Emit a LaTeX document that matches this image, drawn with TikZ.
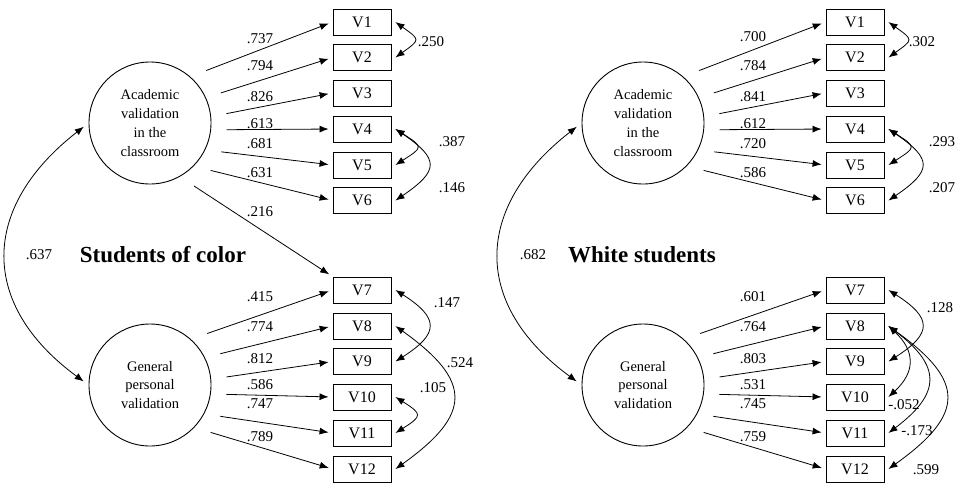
\documentclass[tikz,border=0pt]{standalone}
\usepackage{fontspec}
\setmainfont{Liberation Serif}
\usetikzlibrary{arrows.meta}
\begin{document}
\begin{tikzpicture}[x=1pt,y=-1pt,
 lat/.style={draw, circle, line width=0.9pt, minimum size=122pt, inner sep=0pt, align=center, font=\fontsize{14.5}{18.7}\selectfont},
 obs/.style={draw, line width=0.9pt, minimum width=58pt, minimum height=26pt, inner sep=0pt, font=\fontsize{16}{18}\selectfont},
 load/.style={line width=0.8pt, -{Latex[length=9pt,width=7pt]}, shorten >=4pt},
 cov/.style={line width=0.8pt, {Latex[length=9pt,width=7pt]}-{Latex[length=9pt,width=7pt]}},
 lab/.style={font=\fontsize{15}{18}\selectfont, inner sep=0pt},
 ttl/.style={font=\fontsize{23}{27}\selectfont\bfseries, inner sep=0pt}]
\useasboundingbox (0,0) rectangle (963,483);

\foreach \p/\dx in {L/0,R/493}{
  \node[lat] (\p A) at (150+\dx,123) {Academic\\validation\\in the\\classroom};
  \node[lat] (\p G) at (150+\dx,385) {General\\personal\\validation};
  \foreach \i/\y in {1/22,2/57.5,3/93,4/129,5/165,6/200.5,7/290,8/326,9/361.5,10/397,11/433,12/469}{
    \node[obs] (\p V\i) at (362+\dx,\y) {V\i};
  }
  \foreach \ang [count=\i] in {43,23,7,-5,-22,-38}{
    \path (\p A) ++(\ang:77pt) coordinate (\p s\i);
    \draw[load] (\p s\i) -- (\p V\i.west);
  }
  \foreach \ang [count=\j] in {42,24,6,-7,-24,-38}{
    \pgfmathtruncatemacro{\k}{\j+6}
    \path (\p G) ++(\ang:77pt) coordinate (\p t\k);
    \draw[load] (\p t\k) -- (\p V\k.west);
  }
  \draw[cov, shorten <=6pt, shorten >=6pt] (\p A.west) .. controls +(-109,85) and +(-109,-80) .. (\p G.west);
  \draw[cov] ([xshift=4pt]\p V1.east) .. controls +(25,18) and +(25,-18) .. ([xshift=4pt]\p V2.east);
  \draw[cov] ([xshift=4pt]\p V4.east) .. controls +(28,18) and +(28,-18) .. ([xshift=4pt]\p V5.east);
  \draw[cov] ([xshift=4pt]\p V4.east) .. controls +(44,30) and +(44,-30) .. ([xshift=4pt]\p V6.east);
  \draw[cov] ([xshift=4pt]\p V7.east) .. controls +(44,28) and +(44,-28) .. ([xshift=4pt]\p V9.east);
  \draw[cov] ([xshift=4pt]\p V8.east) .. controls +(77,55) and +(77,-55) .. ([xshift=4pt]\p V12.east);
}

% extra path left
\path (LA) ++(-55:77pt) coordinate (Ls7);
\draw[load] (Ls7) -- (LV7.north west);
\draw[cov] ([xshift=4pt]LV10.east) .. controls +(27,17) and +(27,-17) .. ([xshift=4pt]LV11.east);
% extra covariances right
\draw[cov] ([xshift=4pt]RV8.east) .. controls +(27,25) and +(27,-25) .. ([xshift=4pt]RV10.east);
\draw[cov] ([xshift=4pt]RV8.east) .. controls +(53,40) and +(53,-40) .. ([xshift=4pt]RV11.east);

% titles
\node[ttl] (t1) at (163,255) {Students of color};
\node[ttl] (t2) at (642,255) {White students};

% left labels
\node[lab] (l1) at (260,39) {.737};
\node[lab] (l2) at (260,66) {.794};
\node[lab] (l3) at (260,97) {.826};
\node[lab] (l4) at (260,124) {.613};
\node[lab] (l5) at (260,144) {.681};
\node[lab] (l6) at (260,173) {.631};
\node[lab] (l7) at (260,212) {.216};
\node[lab] (l8) at (260,297) {.415};
\node[lab] (l9) at (260,327) {.774};
\node[lab] (l10) at (260,359) {.812};
\node[lab] (l11) at (260,385) {.586};
\node[lab] (l12) at (260,404) {.747};
\node[lab] (l13) at (260,437) {.789};
\node[lab] (c1) at (431,42) {.250};
\node[lab] (c2) at (452,142) {.387};
\node[lab] (c3) at (452,188) {.146};
\node[lab] (c4) at (447,303) {.147};
\node[lab] (c5) at (460,363) {.524};
\node[lab] (c6) at (433,388) {.105};
\node[lab] (c7) at (39,255) {.637};

% right labels
\node[lab] (r1) at (753,37) {.700};
\node[lab] (r2) at (753,66) {.784};
\node[lab] (r3) at (753,97) {.841};
\node[lab] (r4) at (753,124) {.612};
\node[lab] (r5) at (753,144) {.720};
\node[lab] (r6) at (753,173) {.586};
\node[lab] (r8) at (753,297) {.601};
\node[lab] (r9) at (753,327) {.764};
\node[lab] (r10) at (753,359) {.803};
\node[lab] (r11) at (753,385) {.531};
\node[lab] (r12) at (753,404) {.745};
\node[lab] (r13) at (753,437) {.759};
\node[lab] (d1) at (922,42) {.302};
\node[lab] (d2) at (942,142) {.293};
\node[lab] (d3) at (942,188) {.207};
\node[lab] (d4) at (940,308) {.128};
\node[lab] (d5) at (904,405) {-.052};
\node[lab] (d6) at (917,431) {-.173};
\node[lab] (d7) at (926,470) {.599};
\node[lab] (d8) at (533,255) {.682};
\end{tikzpicture}
\end{document}
